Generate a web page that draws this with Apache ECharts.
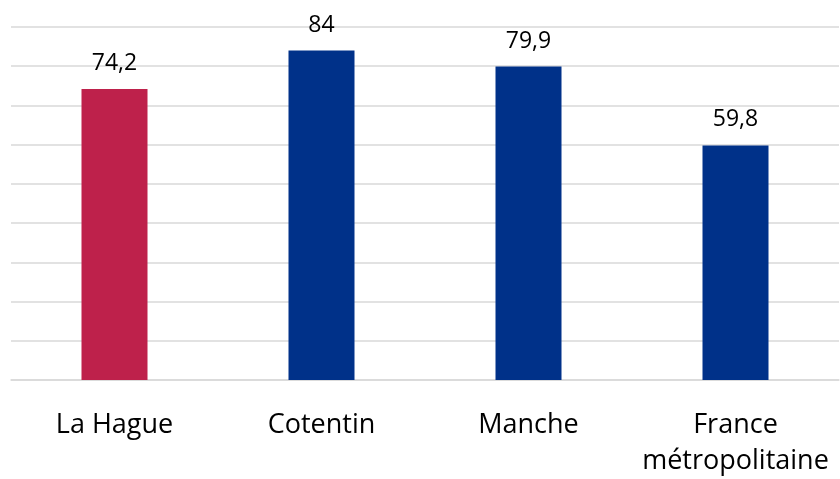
<!DOCTYPE html>
<html>
<head>
<meta charset="utf-8">
<script src="https://cdn.jsdelivr.net/npm/echarts@6/dist/echarts.min.js"></script>
<style>
  html, body { margin: 0; padding: 0; background: #fff; }
  #chart { width: 840px; height: 479px; }
</style>
</head>
<body>
<div id="chart"></div>
<script>
const categories = ['La Hague', 'Cotentin', 'Manche', 'France\nmétropolitaine'];
const values = [74.2, 84, 79.9, 59.8];
const barColors = ['#BE214B', '#003189', '#003189', '#003189'];

const chart = echarts.init(document.getElementById('chart'));
chart.setOption({
  animation: false,
  grid: { left: 11, right: 1, top: 27, bottom: 94, containLabel: false },
  xAxis: {
    type: 'category',
    data: categories,
    axisLine: { lineStyle: { color: '#d9d9d9', width: 1.5 } },
    axisTick: { show: false },
    axisLabel: {
      color: '#000',
      fontFamily: 'Open Sans',
      fontSize: 27,
      margin: 27,
      lineHeight: 36,
      interval: 0
    }
  },
  yAxis: {
    type: 'value',
    min: 0,
    max: 90,
    interval: 10,
    axisLabel: { show: false },
    axisLine: { show: false },
    axisTick: { show: false },
    splitLine: { lineStyle: { color: '#d9d9d9', width: 1.5 } }
  },
  series: [{
    type: 'bar',
    barWidth: 66,
    data: values.map((v, i) => ({ value: v, itemStyle: { color: barColors[i] } })),
    label: {
      show: true,
      position: 'top',
      distance: 14,
      color: '#000',
      fontFamily: 'Open Sans',
      fontSize: 23,
      formatter: p => String(p.value).replace('.', ',')
    }
  }]
});
</script>
</body>
</html>
